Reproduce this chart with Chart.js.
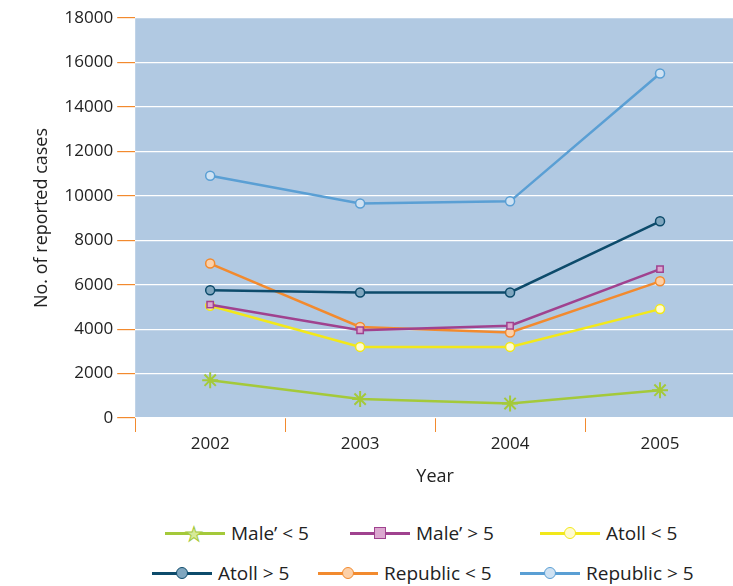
<!DOCTYPE html>
<html><head><meta charset="utf-8">
<script src="https://cdn.jsdelivr.net/npm/chart.js@4"></script>
<style>
body{margin:0;background:#fff;font-family:"Open Sans",sans-serif;}
#wrap{position:relative;width:745px;height:492px;}
#legend{position:absolute;left:0;top:520px;width:733px;font-size:19px;color:#222;}
.item{position:absolute;display:flex;align-items:center;}
.ln{position:relative;width:60px;height:3px;margin-right:6px;}
.mk{position:absolute;left:24px;top:-5px;width:10px;height:10px;border-radius:50%;border:1.5px solid;}
</style></head>
<body>
<div id="wrap"><canvas id="c"></canvas></div>
<div id="legend"></div>
<script>
const years = ["2002", "2003", "2004", "2005"];
const maleUnder5 = [1700, 850, 650, 1250];
const maleOver5 = [5100, 3950, 4150, 6700];
const atollUnder5 = [5050, 3200, 3200, 4900];
const atollOver5 = [5750, 5650, 5650, 8850];
const republicUnder5 = [6950, 4100, 3850, 6150];
const republicOver5 = [10900, 9650, 9750, 15500];

const series = [
  {label: "Male’ < 5", data: maleUnder5, color: "#a4c93a", fill: "#d6ea9a", style: "star", pos: [165, 0]},
  {label: "Male’ > 5", data: maleOver5, color: "#a0428f", fill: "#dca8d0", style: "rect", pos: [350, 0]},
  {label: "Atoll < 5", data: atollUnder5, color: "#f2e81a", fill: "#fffbd0", style: "circle", pos: [540, 0]},
  {label: "Atoll > 5", data: atollOver5, color: "#0d4b6b", fill: "#7fa6bf", style: "circle", pos: [152, 40]},
  {label: "Republic < 5", data: republicUnder5, color: "#f28a2e", fill: "#fcd0a8", style: "circle", pos: [318, 40]},
  {label: "Republic > 5", data: republicOver5, color: "#5a9fd4", fill: "#cfe2f3", style: "circle", pos: [520, 40]}
];

const bgPlugin = {
  id: "plotBg",
  beforeDraw(chart) {
    const {ctx, chartArea: {left, top, width, height}} = chart;
    ctx.save();
    ctx.fillStyle = "#b1c9e2";
    ctx.fillRect(left, top, width, height);
    ctx.restore();
  }
};

new Chart(document.getElementById("c"), {
  type: "line",
  data: {
    labels: years,
    datasets: series.map(s => ({
      label: s.label,
      data: s.data,
      borderColor: s.color,
      backgroundColor: s.fill,
      pointBorderColor: s.color,
      pointStyle: s.style,
      pointRadius: s.style === "star" ? 8 : 4.5,
      pointBorderWidth: s.style === "star" ? 2 : 1.5,
      borderWidth: 2.5,
      tension: 0
    }))
  },
  options: {
    responsive: true,
    maintainAspectRatio: false,
    animation: false,
    layout: {padding: {top: 18, left: 27, right: 0}},
    plugins: {legend: {display: false}, tooltip: {enabled: false}},
    scales: {
      x: {
        offset: true,
        grid: {offset: true, drawOnChartArea: false, color: "#f28a2e", tickLength: 14},
        border: {display: false},
        ticks: {color: "#222", font: {family: "Open Sans", size: 17}, padding: 2},
        title: {display: true, text: "Year", color: "#222", font: {family: "Open Sans", size: 18}, padding: {top: 10}}
      },
      y: {
        min: 0, max: 18000,
        grid: {color: "#ffffff", lineWidth: 1.2, tickColor: "#f28a2e", tickLength: 18},
        border: {display: false},
        ticks: {stepSize: 2000, color: "#222", font: {family: "Open Sans", size: 17}, padding: 4,
          callback: v => String(v)},
        title: {display: true, text: "No. of reported cases", color: "#222", font: {family: "Open Sans", size: 18}, padding: {bottom: 8}}
      }
    }
  },
  plugins: [bgPlugin]
});

const legend = document.getElementById("legend");
series.forEach(s => {
  const it = document.createElement("div");
  it.className = "item";
  it.style.left = s.pos[0] + "px";
  it.style.top = s.pos[1] + "px";
  const mk = s.style === "star"
    ? `<span style="position:absolute;left:20px;top:-12px;font-size:20px;color:${s.fill};-webkit-text-stroke:1px ${s.color};">★</span>`
    : `<span class="mk" style="border-color:${s.color};background:${s.fill};${s.style === "rect" ? "border-radius:0;" : ""}"></span>`;
  it.innerHTML = `<span class="ln" style="background:${s.color}">${mk}</span>${s.label}`;
  legend.appendChild(it);
});
</script>
</body></html>
